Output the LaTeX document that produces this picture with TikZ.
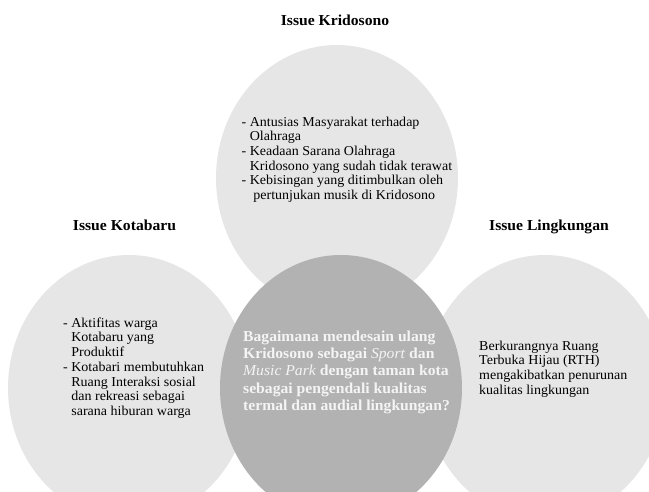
\documentclass[tikz,border=0pt]{standalone}
\usepackage{fontspec}
\setmainfont{Liberation Serif}[FakeStretch=1.03]
\usetikzlibrary{shapes.geometric,positioning}
\definecolor{bubblegray}{HTML}{E6E6E6}
\definecolor{coregray}{HTML}{B2B2B2}
\definecolor{coretext}{HTML}{F4F4F4}
\tikzset{
  issuebubble/.style={ellipse, fill=bubblegray, minimum width=242pt, minimum height=266pt, inner sep=0pt},
  issuetitle/.style={anchor=base, inner sep=0pt, font=\fontsize{15.2}{17}\selectfont\bfseries},
  issuetext/.style={anchor=north west, align=left, inner sep=0pt, font=\fontsize{13.6}{14.7}\selectfont},
  coretextbox/.style={issuetext, text=coretext, font=\fontsize{15.2}{17.3}\selectfont\bfseries}
}

\begin{document}
\begin{tikzpicture}[x=1pt, y=-1pt]
    \useasboundingbox (0,0) rectangle (649,491);
    \clip (0,0) rectangle (649,491);

    % Issue bubbles
    \node[issuebubble] (kridosono) at (337,178) {};
    \node[issuebubble] (kotabaru) at (129,388) {};
    \node[issuebubble] (lingkungan) at (545,388) {};

    % Central question bubble
    \node[issuebubble, fill=coregray] (question) at (341,388) {};

    % Titles
    \node[issuetitle] (ttlkrido) at (335,25) {Issue Kridosono};
    \node[issuetitle] (ttlkota) at (124.5,230) {Issue Kotabaru};
    \node[issuetitle] (ttlling) at (549,230) {Issue Lingkungan};

    % Issue texts
    \node[issuetext] (txtkrido) at (241.5,116.5) {- Antusias Masyarakat terhadap\\
        \hphantom{- }Olahraga\\
        - Keadaan Sarana Olahraga\\
        \hphantom{- }Kridosono yang sudah tidak terawat\\
        - Kebisingan yang ditimbulkan oleh\\
        \hphantom{- }\ pertunjukan musik di Kridosono};
    \node[issuetext] (txtkota) at (63,317.5) {- Aktifitas warga\\
        \hphantom{- }Kotabaru yang\\
        \hphantom{- }Produktif\\
        - Kotabari membutuhkan\\
        \hphantom{- }Ruang Interaksi sosial\\
        \hphantom{- }dan rekreasi sebagai\\
        \hphantom{- }sarana hiburan warga};
    \node[issuetext] (txtling) at (479,340.5) {Berkurangnya Ruang\\
        Terbuka Hijau (RTH)\\
        mengakibatkan penurunan\\
        kualitas lingkungan};

    % Question text
    \node[coretextbox] (txtquestion) at (243,330.5) {Bagaimana mendesain ulang\\
        Kridosono sebagai \textmd{\textit{Sport}} dan\\
        \textmd{\textit{Music Park}} dengan taman kota\\
        sebagai pengendali kualitas\\
        termal dan audial lingkungan?};

\end{tikzpicture}
\end{document}
